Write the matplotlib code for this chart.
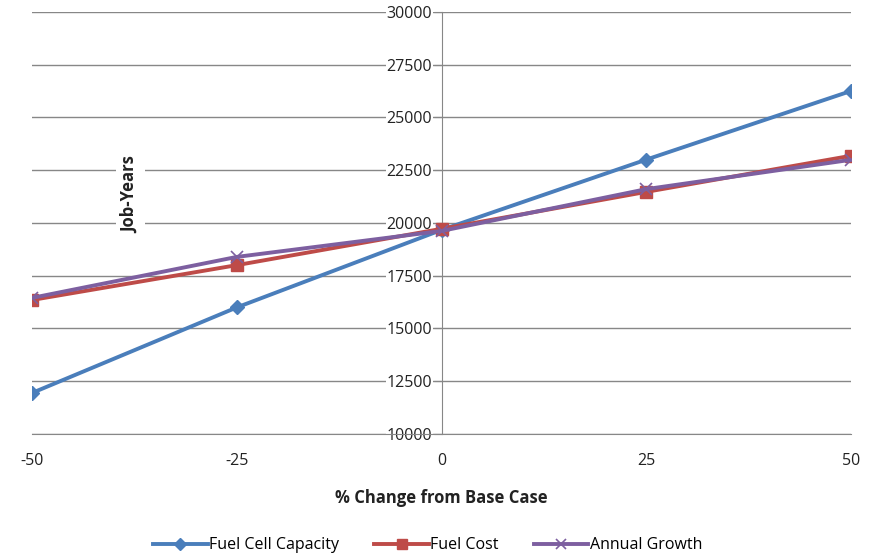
import numpy as np
import matplotlib
matplotlib.use("Agg")
import matplotlib.pyplot as plt
from matplotlib.ticker import FuncFormatter

plt.rcParams["font.family"] = ["Open Sans", "DejaVu Sans"]
plt.rcParams["axes.unicode_minus"] = False

# sensitivity of job-years to each input (% change from base case)
pct_change = [-50, -25, 0, 25, 50]
fuel_cell_capacity = [11950, 16000, 19670, 23000, 26250]
fuel_cost = [16350, 18000, 19720, 21470, 23180]
annual_growth = [16450, 18390, 19620, 21600, 22990]

yticks = [10000, 12500, 15000, 17500, 20000, 22500, 25000, 27500, 30000]
xticks = [-50, -25, 0, 25, 50]

GRID = "#878787"
TXT = "#222222"

fig = plt.figure(figsize=(8.73, 5.6), dpi=100)
ax = fig.add_axes([0.037, 0.225, 0.938, 0.754])

ax.plot(pct_change, fuel_cell_capacity, color="#4A7EBB", lw=2.8,
        marker="D", ms=7, label="Fuel Cell Capacity", zorder=3)
ax.plot(pct_change, fuel_cost, color="#BE4B48", lw=2.8,
        marker="s", ms=8, label="Fuel Cost", zorder=3)
ax.plot(pct_change, annual_growth, color="#7D5FA0", lw=2.8,
        marker="x", ms=9, mew=1.2, label="Annual Growth", zorder=4)

ax.set_xlim(-50, 50)
ax.set_ylim(10000, 30000)
ax.set_yticks(yticks)
ax.set_xticks(xticks)
ax.xaxis.set_major_formatter(FuncFormatter(lambda v, p: f"{v:.0f}"))
ax.grid(axis="y", color=GRID, lw=1.0)
ax.set_axisbelow(True)

for s in ["top", "right"]:
    ax.spines[s].set_visible(False)
ax.spines["left"].set_position(("data", 0))
ax.spines["left"].set_color(GRID)
ax.spines["bottom"].set_color(GRID)
ax.tick_params(axis="y", direction="out", length=6, color=GRID,
               labelsize=11.5, labelcolor=TXT, pad=1)
ax.tick_params(axis="x", length=0, labelsize=11.5, labelcolor=TXT, pad=14)
for lbl in ax.get_yticklabels():
    lbl.set_bbox(dict(facecolor="white", edgecolor="none", pad=0.5))
    lbl.set_zorder(5)

ax.set_xlabel("% Change from Base Case", fontsize=12, fontweight="bold",
              labelpad=14, color=TXT)
fig.text(0.149, 0.652, "Job-Years", rotation=90, ha="center", va="center",
         fontsize=12, fontweight="bold", color=TXT,
         bbox=dict(facecolor="white", edgecolor="none", pad=4))

fig.legend(loc="lower center", bbox_to_anchor=(0.49, -0.014), ncol=3,
           frameon=False, fontsize=11.5, handlelength=3.4, columnspacing=2.2,
           handletextpad=0.1, markerscale=0.85)

fig.savefig("out.png", dpi=100)
